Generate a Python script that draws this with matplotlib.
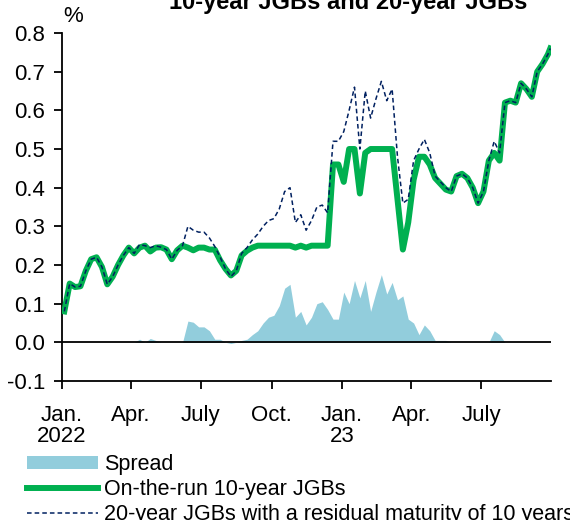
import matplotlib
matplotlib.use('Agg')
import matplotlib.pyplot as plt
import matplotlib.patches as mpatches
from matplotlib.lines import Line2D
import numpy as np
import pandas as pd

plt.rcParams['font.family'] = ['Liberation Sans', 'DejaVu Sans']

# weekly observations (Tuesdays), last point end of Sept 2023
dates = pd.date_range('2022-01-04', '2023-09-26', freq='7D').append(pd.DatetimeIndex(['2023-09-29']))

# on-the-run 10-year JGB yield, %
ten = [0.08, 0.152, 0.143, 0.145, 0.185, 0.215, 0.22, 0.195, 0.15, 0.17,
       0.20, 0.225, 0.245, 0.23, 0.245, 0.25, 0.235, 0.245, 0.246, 0.24,
       0.215, 0.238, 0.25, 0.245, 0.238, 0.245, 0.245, 0.24, 0.24, 0.212,
       0.19, 0.173, 0.185, 0.225, 0.237, 0.245, 0.25, 0.25, 0.25, 0.25,
       0.25, 0.25, 0.25, 0.245, 0.25, 0.245, 0.25, 0.25, 0.25, 0.25,
       0.46, 0.46, 0.415, 0.50, 0.50, 0.385, 0.49, 0.50, 0.50, 0.50,
       0.50, 0.50, 0.37, 0.24, 0.31, 0.42, 0.48, 0.48, 0.46, 0.425,
       0.41, 0.395, 0.39, 0.43, 0.436, 0.425, 0.40, 0.36, 0.39, 0.47,
       0.49, 0.47, 0.62, 0.625, 0.62, 0.67, 0.655, 0.635, 0.70, 0.72,
       0.745, 0.76]

# 20-year JGBs with a residual maturity of 10 years, %
twenty = [0.08, 0.152, 0.143, 0.145, 0.185, 0.215, 0.22, 0.195, 0.15, 0.17,
          0.20, 0.225, 0.245, 0.23, 0.253, 0.25, 0.245, 0.25, 0.246, 0.24,
          0.215, 0.238, 0.25, 0.30, 0.29, 0.285, 0.285, 0.27, 0.248, 0.22,
          0.19, 0.17, 0.185, 0.23, 0.245, 0.265, 0.28, 0.30, 0.315, 0.32,
          0.345, 0.39, 0.40, 0.31, 0.33, 0.29, 0.315, 0.35, 0.355, 0.335,
          0.52, 0.52, 0.545, 0.60, 0.66, 0.50, 0.65, 0.58, 0.63, 0.675,
          0.625, 0.655, 0.48, 0.36, 0.37, 0.47, 0.50, 0.525, 0.49, 0.43,
          0.415, 0.40, 0.39, 0.43, 0.436, 0.425, 0.40, 0.36, 0.39, 0.47,
          0.52, 0.49, 0.62, 0.625, 0.62, 0.67, 0.655, 0.635, 0.70, 0.72,
          0.745, 0.76]

spread = np.array(twenty) - np.array(ten)

tick_dates = pd.to_datetime(['2022-01-01', '2022-04-01', '2022-07-01', '2022-10-01',
                             '2023-01-01', '2023-04-01', '2023-07-01'])
tick_labels = ['Jan.\n2022', 'Apr.', 'July', 'Oct.', 'Jan.\n23', 'Apr.', 'July']

fig = plt.figure(figsize=(5.7, 5.2), dpi=100)
ax = fig.add_axes([0.1088, 0.2673, 0.8579, 0.6692])

ax.fill_between(dates, 0, spread, color='#92cddc', lw=0, zorder=1)
ax.axhline(0, color='black', lw=1.3, zorder=2)
ax.plot(dates, ten, color='#00b050', lw=4.3, solid_joinstyle='round', zorder=3)
ax.plot(dates, twenty, color='#002060', lw=1.1, ls=(0, (3, 2)), zorder=4)

ax.set_xlim(pd.Timestamp('2022-01-01'), pd.Timestamp('2023-09-30'))
ax.set_ylim(-0.1, 0.8)
ax.set_yticks(np.arange(-0.1, 0.81, 0.1))
ax.set_yticklabels(['-0.1', '0.0', '0.1', '0.2', '0.3', '0.4', '0.5', '0.6', '0.7', '0.8'])
ax.set_xticks(tick_dates)
ax.set_xticklabels(tick_labels, linespacing=1.0)

for s in ['top', 'right']:
    ax.spines[s].set_visible(False)
for s in ['left', 'bottom']:
    ax.spines[s].set_linewidth(1.3)
ax.tick_params(axis='both', labelsize=16, direction='out', length=6, width=1.3, color='black')
ax.tick_params(axis='y', pad=6)
ax.tick_params(axis='x', pad=11)

ax.annotate('%', xy=(0, 1), xycoords='axes fraction', xytext=(1, 4),
            textcoords='offset points', ha='left', va='bottom', fontsize=16)

fig.text(0.61, 0.9827, '10-year JGBs and 20-year JGBs', ha='center', va='baseline',
         fontsize=17, fontweight='bold')

handles = [mpatches.Patch(color='#92cddc', lw=0),
           Line2D([], [], color='#00b050', lw=4.3),
           Line2D([], [], color='#002060', lw=1.1, ls=(0, (3, 2)))]
labels = ['Spread', 'On-the-run 10-year JGBs', '20-year JGBs with a residual maturity of 10 years']
fig.legend(handles, labels, loc='upper left', bbox_to_anchor=(0.047, 0.127), frameon=False,
           fontsize=15.5, handlelength=3.3, handleheight=0.55, handletextpad=0.3,
           labelspacing=0.18, borderaxespad=0, borderpad=0)

fig.savefig('out.png', dpi=100)
